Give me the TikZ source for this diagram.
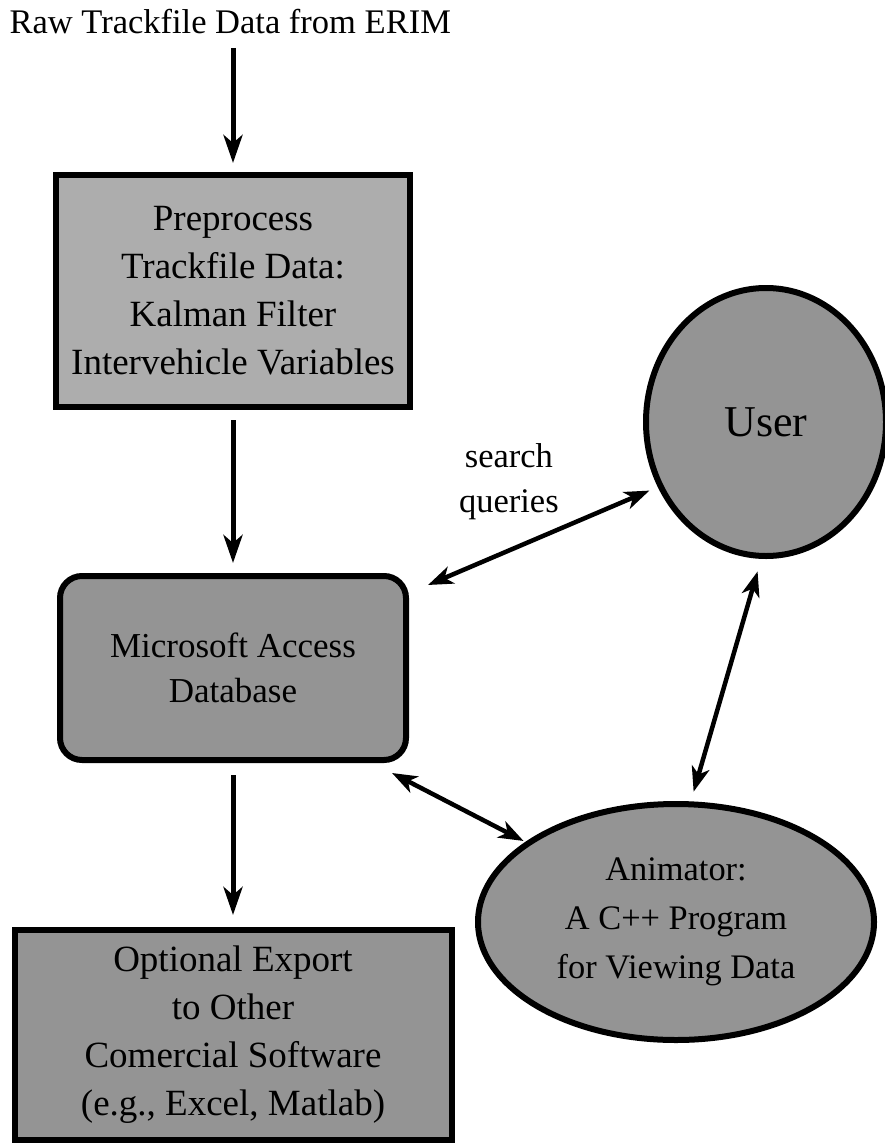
\documentclass[tikz,border=0pt]{standalone}
\usepackage{fontspec}
\setmainfont{Liberation Serif}
\usetikzlibrary{arrows.meta, positioning, shapes.geometric}

\begin{document}
\begin{tikzpicture}[
    x=1pt, y=1pt,
    node distance=163pt,
    block/.style={rectangle, draw=black, line width=6pt, align=center, fill=black!42, font=\fontsize{37}{48}\selectfont},
    roundblock/.style={block, rounded corners=22pt, font=\fontsize{35}{45}\selectfont},
    oval/.style={ellipse, draw=black, line width=6pt, align=center, inner sep=0pt, fill=black!42},
    line/.style={draw=black, line width=5pt, -{Stealth[length=28pt, width=19pt, inset=8pt]}},
    twoway/.style={draw=black, line width=4.5pt, {Stealth[length=25pt, width=18pt, inset=7pt]}-{Stealth[length=25pt, width=18pt, inset=7pt]}}
]
    \useasboundingbox (0,0) rectangle (885,-1148);

    \node[anchor=west, font=\fontsize{34.5}{44}\selectfont] (raw) at (6,-22) {Raw Trackfile Data from ERIM};
    \node[block, fill=black!32, minimum width=354pt, minimum height=232pt] (prep) at (233,-291) {Preprocess\\Trackfile Data:\\Kalman Filter\\Intervehicle Variables};
    \node[roundblock, minimum width=346pt, minimum height=184pt, below=163pt of prep] (db) {Microsoft Access\\Database};
    \node[block, minimum width=437pt, minimum height=210pt, below=164pt of db] (export) {Optional Export\\to Other\\Comercial Software\\(e.g., Excel, Matlab)};

    % right side
    \node[oval, minimum width=240pt, minimum height=268pt, font=\fontsize{44}{50}\selectfont] (user) at (766,-422) {User};
    \node[oval, minimum width=396pt, minimum height=236pt, font=\fontsize{34.4}{49}\selectfont] (anim) at (676,-922) {Animator:\\A C++ Program\\for Viewing Data};

    % Connectors
    \draw[line, shorten <=10pt, shorten >=9pt] (raw.south -| prep.north) -- (prep.north);
    \draw[line, shorten <=10pt, shorten >=10pt] (prep) -- (db);
    \draw[line, shorten <=12pt, shorten >=12pt] (db) -- (export);
    \draw[twoway, shorten >=9pt] ([xshift=19pt, yshift=-12pt]db.north east) -- node[midway, above=11pt, xshift=-34pt, align=center, font=\fontsize{34.5}{45}\selectfont] (query) {search\\queries} (user.211);
    \draw[twoway, shorten <=10pt, shorten >=13pt] (anim.83) -- (user.268);
    \draw[twoway, shorten >=2pt] ([xshift=-17pt, yshift=-10pt]db.south east) -- (anim.152);
\end{tikzpicture}
\end{document}
